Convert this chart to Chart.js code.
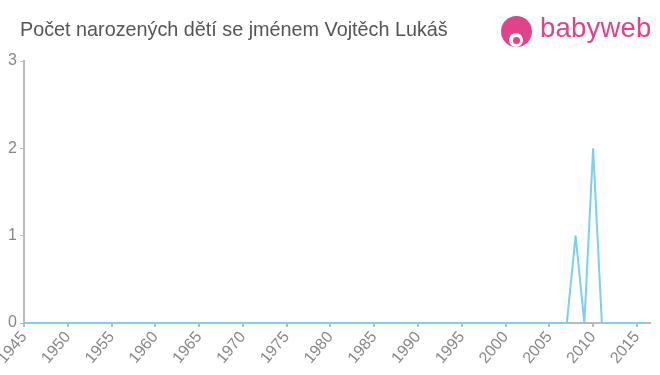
<!DOCTYPE html>
<html>
<head>
<meta charset="utf-8">
<script src="https://cdn.jsdelivr.net/npm/chart.js@4/dist/chart.umd.min.js"></script>
<style>
  body { margin: 0; background: #fff; }
  #wrap { position: relative; width: 660px; height: 375px; overflow: hidden; }
  #title { position: absolute; left: 20px; top: 18px; font: 19.8px "Liberation Sans", Arial, sans-serif; color: #555; }
  #logo { position: absolute; left: 501px; top: 15px; height: 34px; }
  #logo .icon { position: absolute; left: 0; top: 1px; width: 31px; height: 31px; border-radius: 50%; background: #e0438a; }
  #logo .icon .face { position: absolute; left: 8px; top: 17px; width: 14px; height: 14px; border-radius: 50%; background: #fff; }
  #logo .icon .nose { position: absolute; left: 11.5px; top: 21px; width: 7px; height: 7px; border-radius: 50%; background: #e0438a; }
  #logo .txt { position: absolute; left: 39px; top: -3px; font: 27.5px "Liberation Sans", Arial, sans-serif; color: #e0438a; letter-spacing: 0.2px; }
  canvas { position: absolute; left: 0; top: 0; }
</style>
</head>
<body>
<div id="wrap">
  <canvas id="chart" width="660" height="375"></canvas>
  <div id="title">Počet narozených dětí se jménem Vojtěch Lukáš</div>
  <div id="logo"><div class="icon"><div class="face"></div><div class="nose"></div></div><div class="txt">babyweb</div></div>
</div>
<script>
// years and births
const years = [];
for (let y = 1945; y <= 2016; y++) years.push(y);
const nonZero = { 2008: 1, 2010: 2 };
const births = years.map(y => nonZero[y] || 0);
const xTicks = [1945, 1950, 1955, 1960, 1965, 1970, 1975, 1980, 1985, 1990, 1995, 2000, 2005, 2010, 2015];

const points = years.map((y, i) => ({ x: y, y: births[i] }));

const chart = new Chart(document.getElementById("chart").getContext("2d"), {
    type: "line",
    data: {
        datasets: [{
            data: points,
            borderColor: "#7dcfee",
            borderWidth: 2,
            fill: false,
            pointRadius: 0,
            tension: 0
        }]
    },
    options: {
        responsive: false,
        animation: false,
        layout: { padding: { top: 61, right: 10, left: 0, bottom: 0 } },
        plugins: { legend: { display: false }, tooltip: { enabled: false } },
        scales: {
            x: {
                type: "linear",
                min: 1945,
                max: 2016.5,
                grid: { display: true, drawOnChartArea: false, drawTicks: true, tickLength: 4, color: "#bbb", lineWidth: 2 },
                border: { color: "#bbb", width: 2 },
                ticks: {
                    autoSkip: false,
                    maxRotation: 50,
                    minRotation: 50,
                    padding: 1,
                    color: "#888",
                    font: { family: "Liberation Sans", size: 16 },
                    callback: v => String(v)
                },
                afterBuildTicks: axis => {
                    axis.ticks = xTicks.map(v => ({ value: v }));
                },
                afterFit: axis => {
                    axis.paddingLeft = 0;
                    axis.height = 52;
                }
            },
            y: {
                min: 0,
                max: 3,
                grid: { display: true, drawOnChartArea: false, drawTicks: true, tickLength: 4, color: "#bbb", lineWidth: 1 },
                border: { color: "#bbb", width: 2 },
                ticks: {
                    stepSize: 1,
                    color: "#888",
                    font: { family: "Liberation Sans", size: 16 },
                    padding: 3
                },
                afterFit: axis => {
                    axis.width = 24;
                }
            }
        }
    }
});
</script>
</body>
</html>
